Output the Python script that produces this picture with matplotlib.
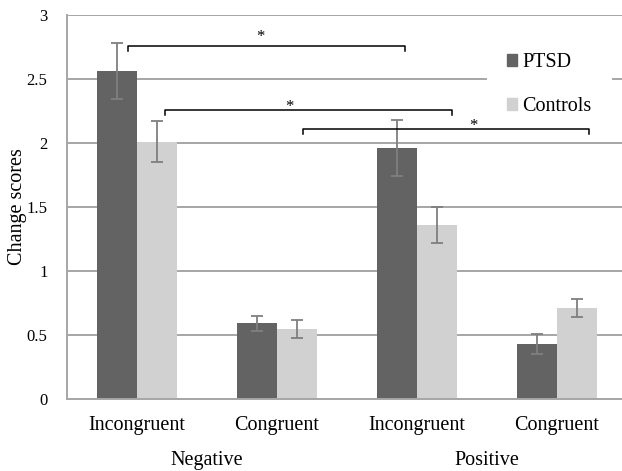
import numpy as np
import matplotlib
matplotlib.use("Agg")
import matplotlib.pyplot as plt
from matplotlib.patches import Patch, Rectangle
import matplotlib.transforms as mtransforms

plt.rcParams['font.family'] = ['Liberation Serif', 'DejaVu Serif']

conditions = ["Incongruent", "Congruent", "Incongruent", "Congruent"]
valence = ["Negative", "Positive"]
ptsd = [2.56, 0.59, 1.96, 0.43]
ptsd_err = [0.22, 0.06, 0.22, 0.08]
controls = [2.01, 0.55, 1.36, 0.71]
controls_err = [0.16, 0.07, 0.14, 0.07]
# significance brackets: (x start, x end, y level) and star positions
brackets = [(-0.065, 1.915, 2.76), (0.2, 2.25, 2.26), (1.185, 3.23, 2.11)]
star_x = [0.88, 1.09, 2.40]
star_y = [2.83, 2.28, 2.13]

fig = plt.figure(figsize=(6.22, 4.71), dpi=100)
ax = fig.add_axes([67/622, 72/471, 560/622, 384/471])

x = np.arange(len(conditions))
w = 40/140
ax.bar(x - w/2, ptsd, w, color="#636363", zorder=2, label="PTSD")
ax.bar(x + w/2, controls, w, color="#d0d1d0", zorder=2, label="Controls")
ax.errorbar(x - w/2, ptsd, yerr=ptsd_err, fmt="none", ecolor="#7f7f7f",
            elinewidth=1.3, capsize=4, capthick=1.3, zorder=3)
ax.errorbar(x + w/2, controls, yerr=controls_err, fmt="none", ecolor="#7f7f7f",
            elinewidth=1.3, capsize=4, capthick=1.3, zorder=3)

for (x0, x1, yb), sx, sy in zip(brackets, star_x, star_y):
    ax.plot([x0, x0, x1, x1], [yb - 0.04, yb, yb, yb - 0.04], color="black",
            lw=1.1, zorder=7, clip_on=False)
    ax.text(sx, sy, "*", ha="center", va="center", fontsize=12, zorder=7)

ax.set_xlim(-0.5, 3.5)
ax.set_ylim(0, 3)
ax.set_yticks(np.arange(0, 3.01, 0.5))
ax.set_yticklabels(["0", "0.5", "1", "1.5", "2", "2.5", "3"], fontsize=12)
ax.set_xticks(x)
ax.set_xticklabels(conditions, fontsize=14.5)
ax.tick_params(axis="both", length=0)
ax.tick_params(axis="x", pad=12)
ax.tick_params(axis="y", pad=14)
ax.grid(axis="y", color="#a6a6a6", lw=1.4, zorder=0)
ax.set_axisbelow(True)
for s in ["top", "right"]:
    ax.spines[s].set_visible(False)
for s in ["left", "bottom"]:
    ax.spines[s].set_color("#a6a6a6")
    ax.spines[s].set_linewidth(1.4)

trans = mtransforms.blended_transform_factory(ax.transData, ax.transAxes)
for i, v in enumerate(valence):
    ax.text(2 * i + 0.5, -0.16, v, transform=trans, ha="center", va="center",
            fontsize=14.5)

ax.set_ylabel("Change scores", fontsize=14.5, ha="center", va="center")
ax.yaxis.set_label_coords(-0.0875, 0.5)

# white legend background
ax.add_patch(Rectangle((487/622, 1 - 122/471), 125/622, 80/471,
                       transform=fig.transFigure, facecolor="white",
                       edgecolor="none", zorder=1.5, clip_on=False))
handles = [Patch(color="#636363"), Patch(color="#d0d1d0")]
leg = ax.legend(handles, ["PTSD", "Controls"], loc="upper left",
                bbox_to_anchor=(501/622, 1 - 47/471),
                bbox_transform=fig.transFigure, fontsize=14.5,
                frameon=False, borderpad=0.3,
                handlelength=0.5, handleheight=0.5, handletextpad=0.25,
                labelspacing=1.25, borderaxespad=0)
leg.set_zorder(5)

fig.savefig("out.png", dpi=100)
